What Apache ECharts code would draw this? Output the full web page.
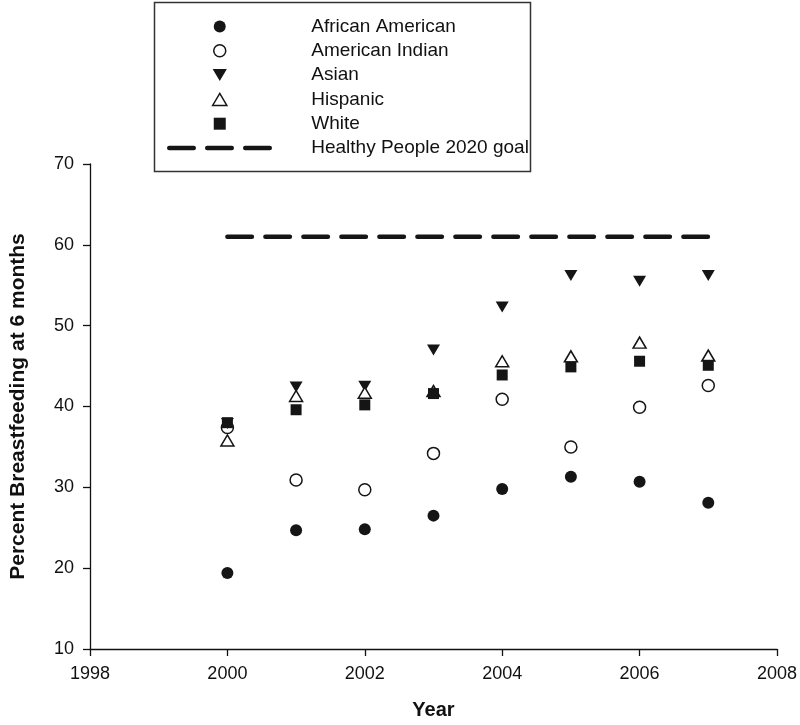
<!DOCTYPE html>
<html>
<head>
<meta charset="utf-8">
<script src="https://cdn.jsdelivr.net/npm/echarts@6/dist/echarts.min.js"></script>
<style>html,body{margin:0;padding:0;background:#fff}#c{width:800px;height:725px}</style>
</head>
<body>
<div id="c"></div>
<script>
var years = [2000, 2001, 2002, 2003, 2004, 2005, 2006, 2007];
var africanAmerican = [19.4, 24.7, 24.8, 26.5, 29.8, 31.3, 30.7, 28.1];
var americanIndian = [37.4, 30.9, 29.7, 34.2, 40.9, 35.0, 39.9, 42.6];
var asian = [37.9, 42.4, 42.5, 47.0, 52.3, 56.2, 55.5, 56.2];
var hispanic = [35.8, 41.3, 41.7, 41.9, 45.6, 46.2, 47.9, 46.3];
var white = [38.0, 39.6, 40.2, 41.6, 43.9, 44.9, 45.6, 45.1];
var goalYears = [2000, 2007];
var goalValue = [61, 61];
var seriesNames = ['African American', 'American Indian', 'Asian', 'Hispanic', 'White', 'Healthy People 2020 goal'];
var xTicks = [1998, 2000, 2002, 2004, 2006, 2008];
var yTicks = [10, 20, 30, 40, 50, 60, 70];

function pairs(xs, ys) { return xs.map(function (x, i) { return [x, ys[i]]; }); }

var FONT = 'Liberation Sans, Arial, sans-serif';
var INK = '#151515';
var DASH = [24.5, 13.5];

var TRI_DOWN = 'path://M0,0L13,0L6.5,11Z';
var TRI_UP = 'path://M6.5,0L13,11L0,11Z';
var SQUARE = 'path://M0,0L11,0L11,11L0,11Z';

var legendItems = [
  { name: seriesNames[0], icon: 'circle', itemStyle: { color: INK, opacity: 1 } },
  { name: seriesNames[1], icon: 'circle', itemStyle: { color: '#fff', borderColor: INK, borderWidth: 1.5, opacity: 1 } },
  { name: seriesNames[2], icon: TRI_DOWN, itemStyle: { color: INK, opacity: 1 } },
  { name: seriesNames[3], icon: TRI_UP, itemStyle: { color: '#fff', borderColor: INK, borderWidth: 1.5, opacity: 1 } },
  { name: seriesNames[4], icon: SQUARE, itemStyle: { color: INK, opacity: 1 } },
  { name: seriesNames[5], itemStyle: { opacity: 0 }, lineStyle: { width: 4.5, type: DASH, cap: 'round', color: INK } }
];

var chart = echarts.init(document.getElementById('c'), null, { renderer: 'canvas' });
chart.setOption({
  animation: false,
  backgroundColor: '#fff',
  grid: { left: 83, right: 22, top: 164, bottom: 74, containLabel: false },
  graphic: [{
    type: 'rect', left: 152, top: 0, z: 0,
    shape: { width: 376, height: 169 },
    style: { fill: 'none', stroke: '#333', lineWidth: 1.5 }
  }],
  legend: {
    orient: 'vertical', left: 167, top: 17, padding: 0,
    itemWidth: 101, itemHeight: 12, itemGap: 5.3,
    symbolKeepAspect: true,
    data: legendItems,
    textStyle: { fontFamily: FONT, fontSize: 19, color: '#111', padding: [0, 0, 0, 36] },
    lineStyle: { width: 4.5, type: DASH, cap: 'round', color: INK }
  },
  xAxis: {
    type: 'value', min: xTicks[0], max: xTicks[xTicks.length - 1], interval: 2,
    name: 'Year', nameLocation: 'middle', nameGap: 51,
    nameTextStyle: { fontFamily: FONT, fontSize: 20, fontWeight: 'bold', color: '#111' },
    axisLine: { onZero: false, lineStyle: { color: '#111', width: 1.3 } },
    axisTick: { show: true, inside: false, length: 7, lineStyle: { color: '#111', width: 1.3 } },
    axisLabel: { margin: 16, fontFamily: FONT, fontSize: 18, color: '#111', formatter: function (v) { return String(v); } },
    splitLine: { show: false }
  },
  yAxis: {
    type: 'value', min: yTicks[0], max: yTicks[yTicks.length - 1], interval: 10,
    name: 'Percent Breastfeeding at 6 months', nameLocation: 'middle', nameGap: 61,
    nameTextStyle: { fontFamily: FONT, fontSize: 21, fontWeight: 'bold', color: '#111' },
    axisLine: { show: true, onZero: false, lineStyle: { color: '#111', width: 1.3 } },
    axisTick: { show: true, inside: false, length: 7, lineStyle: { color: '#111', width: 1.3 } },
    axisLabel: { margin: 16, fontFamily: FONT, fontSize: 18, color: '#111' },
    splitLine: { show: false }
  },
  series: [
    { name: seriesNames[0], type: 'scatter', data: pairs(years, africanAmerican), symbol: 'circle', symbolSize: 12,
      itemStyle: { color: INK, opacity: 1 } },
    { name: seriesNames[1], type: 'scatter', data: pairs(years, americanIndian), symbol: 'circle', symbolSize: 12,
      itemStyle: { color: '#fff', borderColor: INK, borderWidth: 1.5, opacity: 1 } },
    { name: seriesNames[2], type: 'scatter', data: pairs(years, asian), symbol: 'triangle', symbolRotate: 180, symbolSize: [13, 11],
      itemStyle: { color: INK, opacity: 1 } },
    { name: seriesNames[3], type: 'scatter', data: pairs(years, hispanic), symbol: 'triangle', symbolSize: [13, 11],
      itemStyle: { color: '#fff', borderColor: INK, borderWidth: 1.5, opacity: 1 } },
    { name: seriesNames[4], type: 'scatter', data: pairs(years, white), symbol: 'rect', symbolSize: 11,
      itemStyle: { color: INK, opacity: 1 } },
    { name: seriesNames[5], type: 'line', data: pairs(goalYears, goalValue), symbol: 'none',
      itemStyle: { color: INK },
      lineStyle: { color: INK, width: 4.5, type: DASH, cap: 'round' } }
  ]
});
</script>
</body>
</html>
